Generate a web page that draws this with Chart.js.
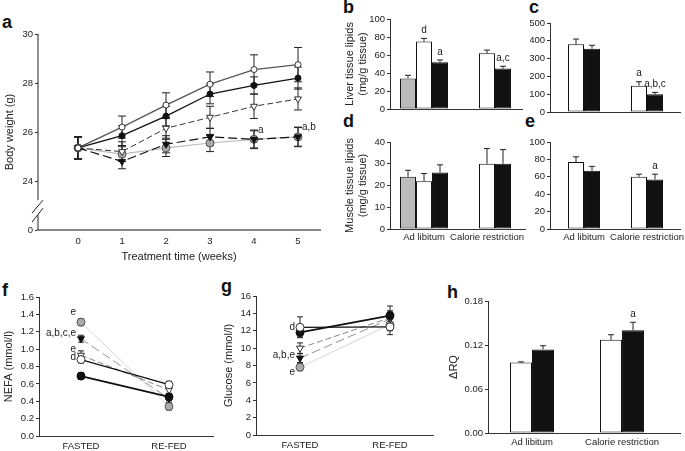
<!DOCTYPE html>
<html>
<head>
<meta charset="utf-8">
<script src="https://cdn.jsdelivr.net/npm/chart.js@4.4.1/dist/chart.umd.min.js"></script>
<style>
body { margin: 0; width: 685px; height: 451px; overflow: hidden; position: relative; background: #fff; font-family: "Liberation Sans", Arial, sans-serif; }
canvas { position: absolute; }
.tag { position: absolute; font-weight: bold; font-size: 18px; line-height: 1; color: #111; }
</style>
</head>
<body>
<div class="tag" style="left:2px;top:13px">a</div>
<div class="tag" style="left:343px;top:-2px">b</div>
<div class="tag" style="left:529px;top:-2px">c</div>
<div class="tag" style="left:343px;top:112px">d</div>
<div class="tag" style="left:525px;top:112px">e</div>
<div class="tag" style="left:2px;top:281px">f</div>
<div class="tag" style="left:221px;top:277px">g</div>
<div class="tag" style="left:447px;top:283px">h</div>
<canvas id="ca"></canvas>
<canvas id="cb"></canvas>
<canvas id="cc"></canvas>
<canvas id="cd"></canvas>
<canvas id="ce"></canvas>
<canvas id="cf"></canvas>
<canvas id="cg"></canvas>
<canvas id="ch"></canvas>
<script>
// ---- data ----
// a: body weight (g) per week
const weeks = [0, 1, 2, 3, 4, 5];
const bwOpenCircle     = [25.35, 26.2, 27.1, 27.95, 28.55, 28.75];
const bwOpenCircleSd   = [0.45, 0.45, 0.5, 0.5, 0.6, 0.7];
const bwFilledCircle   = [25.35, 25.85, 26.65, 27.55, 27.9, 28.2];
const bwFilledCircleSd = [0.45, 0.4, 0.4, 0.4, 0.35, 0.45];
const bwOpenTri        = [25.35, 25.2, 26.15, 26.6, 27.05, 27.35];
const bwOpenTriSd      = [0.45, 0.4, 0.4, 0.45, 0.5, 0.45];
const bwFilledTri      = [25.35, 24.8, 25.5, 25.8, 25.7, 25.8];
const bwFilledTriSd    = [0.45, 0.3, 0.35, 0.35, 0.35, 0.4];
const bwGray           = [25.35, 25.1, 25.35, 25.55, 25.7, 25.8];
const bwGraySd         = [0.45, 0.3, 0.35, 0.35, 0.38, 0.38];
const bwGrayNotes      = [null, null, null, null, 'a', 'a,b'];
const bwTicks = [22, 24, 26, 28, 30];

// bar panels: groups
const groups = ['Ad libitum', 'Calorie restriction'];
// b: liver tissue lipids
const liverGray = [34, null],  liverGraySd = [3.5, null];
const liverWhite = [75, 62],   liverWhiteSd = [3.5, 3.5], liverWhiteNotes = ['d', null];
const liverBlack = [52, 45],   liverBlackSd = [2.5, 2.5], liverBlackNotes = ['a', 'a,c'];
// c
const cWhite = [380, 148], cWhiteSd = [30, 22], cWhiteNotes = [null, 'a'];
const cBlack = [355, 100], cBlackSd = [20, 10], cBlackNotes = [null, 'a,b,c'];
// d: muscle tissue lipids
const muscleGray = [24, null],  muscleGraySd = [3, null];
const muscleWhite = [22, 30],   muscleWhiteSd = [3.5, 7];
const muscleBlack = [26, 30],   muscleBlackSd = [3.5, 6.5];
// e
const eWhite = [77, 60], eWhiteSd = [6, 3];
const eBlack = [67, 57], eBlackSd = [5, 6], eBlackNotes = [null, 'a'];

// f: NEFA, g: glucose (fasted, re-fed)
const states = ['FASTED', 'RE-FED'];
const nefaOpenCircle = [0.88, 0.59],   nefaOpenCircleSd = [0.04, 0.04],   nefaOpenCircleNotes = ['d', null];
const nefaFilledCircle = [0.69, 0.45], nefaFilledCircleSd = [0.04, 0.04];
const nefaOpenTri = [0.93, 0.53],      nefaOpenTriSd = [0.05, 0.04],      nefaOpenTriNotes = ['e', null];
const nefaFilledTri = [1.12, 0.43],    nefaFilledTriSd = [0.04, 0.04],    nefaFilledTriNotes = ['a,b,c,e', null];
const nefaGray = [1.31, 0.34],         nefaGraySd = [0.04, 0.04],         nefaGrayNotes = ['e', null];

const gluOpenCircle = [12.4, 12.45],   gluOpenCircleSd = [1.2, 0.9],    gluOpenCircleNotes = ['d', null];
const gluFilledCircle = [11.8, 13.75], gluFilledCircleSd = [0.5, 1.1];
const gluOpenTri = [10.0, 13.5],       gluOpenTriSd = [0.6, 0.8];
const gluFilledTri = [8.85, 13.35],    gluFilledTriSd = [0.5, 0.8],     gluFilledTriNotes = ['a,b,e', null];
const gluGray = [7.8, 12.7],           gluGraySd = [0.4, 0.7],          gluGrayNotes = ['e', null];

// h: delta RQ
const rqWhite = [0.096, 0.127], rqWhiteSd = [0.001, 0.007];
const rqBlack = [0.114, 0.140], rqBlackSd = [0.005, 0.011], rqBlackNotes = [null, 'a'];

// ---- plugins ----
function drawErrors(chart, opts) {
  const ctx = chart.ctx, ys = chart.scales.y;
  ctx.save();
  ctx.strokeStyle = '#222';
  ctx.lineWidth = 1;
  chart.data.datasets.forEach((ds, i) => {
    if (!ds.errors) return;
    chart.getDatasetMeta(i).data.forEach((el, j) => {
      const v = ds.vals[j], e = ds.errors[j];
      if (v == null || e == null) return;
      const hi = ys.getPixelForValue(v + e);
      const lo = ys.getPixelForValue(opts.both ? v - e : v);
      const w = opts.cap / 2;
      ctx.beginPath();
      ctx.moveTo(el.x, lo); ctx.lineTo(el.x, hi);
      ctx.moveTo(el.x - w, hi); ctx.lineTo(el.x + w, hi);
      if (opts.both) { ctx.moveTo(el.x - w, lo); ctx.lineTo(el.x + w, lo); }
      ctx.stroke();
    });
  });
  ctx.restore();
}
const errorBars = {
  id: 'errorBars',
  beforeDatasetsDraw(chart, args, opts) { if (opts.under) drawErrors(chart, opts); },
  afterDatasetsDraw(chart, args, opts) { if (!opts.under) drawErrors(chart, opts); }
};
const notes = {
  id: 'notes',
  afterDatasetsDraw(chart, args, opts) {
    const ctx = chart.ctx, ys = chart.scales.y;
    ctx.save();
    ctx.font = '10px "Liberation Sans", Arial, sans-serif';
    ctx.fillStyle = '#222';
    chart.data.datasets.forEach((ds, i) => {
      if (!ds.notes) return;
      const meta = chart.getDatasetMeta(i);
      ds.notes.forEach((txt, j) => {
        if (!txt) return;
        const el = meta.data[j];
        const v = ds.vals[j], e = (ds.errors && ds.errors[j]) || 0;
        if (opts.place === 'above') {
          ctx.textAlign = 'center'; ctx.textBaseline = 'bottom';
          ctx.fillText(txt, el.x, ys.getPixelForValue(v + e) - 3);
        } else if (opts.place === 'right') {
          ctx.textAlign = 'left'; ctx.textBaseline = 'middle';
          ctx.fillText(txt, el.x + 4, ys.getPixelForValue(v + e));
        } else {
          const dy = opts.dy ? opts.dy[i] : -3;
          ctx.textAlign = 'right'; ctx.textBaseline = 'middle';
          ctx.fillText(txt, el.x - 5, el.y + dy);
        }
      });
    });
    ctx.restore();
  }
};
const brokenAxis = {
  id: 'brokenAxis',
  afterDraw(chart, args, opts) {
    if (!opts.gap) return;
    const ctx = chart.ctx, ys = chart.scales.y, a = chart.chartArea, x = a.left;
    const g1 = ys.getPixelForValue(opts.gap[1]), g0 = ys.getPixelForValue(opts.gap[0]);
    ctx.save();
    ctx.strokeStyle = '#222'; ctx.lineWidth = 1;
    ctx.beginPath();
    ctx.moveTo(x, a.top); ctx.lineTo(x, g1);
    ctx.moveTo(x, g0); ctx.lineTo(x, a.bottom);
    ctx.moveTo(x - 6, g1 + 13); ctx.lineTo(x + 5, g1);
    ctx.moveTo(x - 6, g1 + 22); ctx.lineTo(x + 5, g1 + 8);
    ctx.stroke();
    ctx.restore();
  }
};
Chart.register(errorBars, notes, brokenAxis);
Chart.defaults.font.family = '"Liberation Sans", Arial, sans-serif';
Chart.defaults.color = '#222';
Chart.defaults.animation = false;

// ---- helpers ----
function pts(xs, ys) { return ys.map((v, i) => ({ x: xs[i], y: v })); }

function panel(id, box, plot) {
  const c = document.getElementById(id);
  c.width = box.w; c.height = box.h;
  c.style.left = box.x + 'px'; c.style.top = box.y + 'px';
  return {
    canvas: c,
    padding: { left: 0, top: plot.top - box.y, right: box.x + box.w - plot.right, bottom: 0 },
    yWidth: plot.left - box.x,
    xHeight: box.y + box.h - plot.bottom
  };
}

function baseOptions(p, o) {
  return {
    responsive: false,
    layout: { padding: p.padding },
    plugins: {
      legend: { display: false }, tooltip: { enabled: false },
      errorBars: o.errorBars, notes: o.notes || {}, brokenAxis: o.brokenAxis || {}
    },
    scales: {
      x: {
        type: 'linear', min: o.xMin, max: o.xMax, offset: false,
        afterFit: s => { s.height = p.xHeight; },
        afterBuildTicks: s => { s.ticks = o.xTicks.map(v => ({ value: v })); },
        grid: { display: false, drawTicks: false, offset: false },
        border: o.xBorder || { color: '#333', width: 1 },
        ticks: { display: o.xLabels !== false, autoSkip: false, maxRotation: 0, padding: o.xPad || 4,
                 font: { size: 9.5 }, callback: o.xFmt },
        title: o.xTitle ? { display: true, text: o.xTitle, font: { size: 11 }, padding: { top: 0, bottom: o.xTitlePad || 4 } } : { display: false }
      },
      y: {
        min: o.yMin, max: o.yMax,
        afterFit: s => { s.width = p.yWidth; },
        afterBuildTicks: s => { s.ticks = o.yTicks.map(v => ({ value: v })); },
        grid: { display: true, drawOnChartArea: false, drawTicks: true, tickLength: 3, color: '#333' },
        border: o.yBorder || { color: '#333', width: 1 },
        ticks: { padding: 2, font: { size: 9.5 }, callback: o.yFmt },
        title: o.yTitle ? { display: true, text: o.yTitle, font: { size: 11 }, padding: { top: o.yTitlePad || 3, bottom: 0 } } : { display: false }
      }
    }
  };
}

function lineSet(xs, vals, sd, style, notesArr) {
  return Object.assign({
    data: pts(xs, vals), vals: vals, errors: sd, notes: notesArr,
    tension: 0, fill: false, pointBorderWidth: 1
  }, style);
}
function barSet(vals, sd, fill, notesArr) {
  return {
    data: pts([0, 1], vals), vals: vals, errors: sd, notes: notesArr,
    backgroundColor: fill, borderColor: '#111', borderWidth: 1, borderSkipped: false
  };
}

// line styles (same groups in a, f, g)
const stOpenCircle = { borderColor: '#555', borderWidth: 1.3, pointStyle: 'circle', pointRadius: 3,
                       pointBackgroundColor: '#fff', pointBorderColor: '#333' };
const stFilledCircle = { borderColor: '#111', borderWidth: 1.3, pointStyle: 'circle', pointRadius: 3,
                         pointBackgroundColor: '#111', pointBorderColor: '#111' };
const stOpenTri = { borderColor: '#333', borderWidth: 1, borderDash: [6, 3], pointStyle: 'triangle', pointRotation: 180,
                    pointRadius: 4, pointBackgroundColor: '#fff', pointBorderColor: '#333' };
const stFilledTri = { borderColor: '#111', borderWidth: 1.2, borderDash: [9, 4], pointStyle: 'triangle', pointRotation: 180,
                      pointRadius: 4, pointBackgroundColor: '#111', pointBorderColor: '#111' };
const stGray = { borderColor: '#bbb', borderWidth: 1.2, pointStyle: 'circle', pointRadius: 4,
                 pointBackgroundColor: '#aaa', pointBorderColor: '#555' };

// ---- a ----
const pa = panel('ca', { x: 0, y: 20, w: 330, h: 250 }, { left: 38, top: 34, right: 320, bottom: 230 });
new Chart(pa.canvas, {
  type: 'line',
  data: { datasets: [
    lineSet(weeks, bwOpenCircle, bwOpenCircleSd, stOpenCircle),
    lineSet(weeks, bwFilledCircle, bwFilledCircleSd, stFilledCircle),
    lineSet(weeks, bwOpenTri, bwOpenTriSd, stOpenTri),
    lineSet(weeks, bwFilledTri, bwFilledTriSd, stFilledTri),
    lineSet(weeks, bwGray, bwGraySd, stGray, bwGrayNotes)
  ] },
  options: baseOptions(pa, {
    xMin: -0.91, xMax: 5.5, xTicks: weeks, xPad: 6, xTitle: 'Treatment time (weeks)', xTitlePad: 6,
    xBorder: { color: '#888', width: 2 },
    yMin: 22, yMax: 30, yTicks: bwTicks, yFmt: v => (v === 22 ? '0' : v), yTitle: 'Body weight (g)',
    yBorder: { display: false },
    errorBars: { under: true, both: true, cap: 8 }, notes: { place: 'right' },
    brokenAxis: { gap: [22.61, 23.22] }
  })
});

const barOpts = (cp) => ({ datasets: { bar: { categoryPercentage: cp, barPercentage: 1 } } });

// ---- b ----
const pb = panel('cb', { x: 340, y: 0, w: 190, h: 125 }, { left: 390, top: 19, right: 522, bottom: 109 });
new Chart(pb.canvas, {
  type: 'bar',
  data: { datasets: [
    barSet(liverGray, liverGraySd, '#bbb'),
    barSet(liverWhite, liverWhiteSd, '#fff', liverWhiteNotes),
    barSet(liverBlack, liverBlackSd, '#111', liverBlackNotes)
  ] },
  options: Object.assign(baseOptions(pb, {
    xMin: -0.54, xMax: 1.556, xTicks: [0, 1], xLabels: false,
    yMin: 0, yMax: 100, yTicks: [0, 20, 40, 60, 80, 100], yTitle: ['Liver tissue lipids', '(mg/g tissue)'],
    errorBars: { both: false, cap: 6 }, notes: { place: 'above' }
  }), barOpts(0.762))
});

// ---- c ----
const pc = panel('cc', { x: 530, y: 0, w: 170, h: 125 }, { left: 550, top: 23, right: 680, bottom: 112 });
new Chart(pc.canvas, {
  type: 'bar',
  data: { datasets: [
    barSet(cWhite, cWhiteSd, '#fff', cWhiteNotes),
    barSet(cBlack, cBlackSd, '#111', cBlackNotes)
  ] },
  options: Object.assign(baseOptions(pc, {
    xMin: -0.54, xMax: 1.524, xTicks: [0, 1], xLabels: false,
    yMin: 0, yMax: 500, yTicks: [0, 100, 200, 300, 400, 500],
    errorBars: { both: false, cap: 6 }, notes: { place: 'above' }
  }), barOpts(0.508))
});

// ---- d ----
const pd = panel('cd', { x: 340, y: 125, w: 190, h: 125 }, { left: 390, top: 142, right: 525, bottom: 229 });
new Chart(pd.canvas, {
  type: 'bar',
  data: { datasets: [
    barSet(muscleGray, muscleGraySd, '#bbb'),
    barSet(muscleWhite, muscleWhiteSd, '#fff'),
    barSet(muscleBlack, muscleBlackSd, '#111')
  ] },
  options: Object.assign(baseOptions(pd, {
    xMin: -0.54, xMax: 1.603, xTicks: [0, 1], xFmt: v => groups[v], xPad: 3,
    yMin: 0, yMax: 40, yTicks: [0, 10, 20, 30, 40], yTitle: ['Muscle tissue lipids', '(mg/g tissue)'],
    errorBars: { both: false, cap: 6 }, notes: { place: 'above' }
  }), barOpts(0.762))
});

// ---- e ----
const pe = panel('ce', { x: 530, y: 125, w: 170, h: 125 }, { left: 550, top: 142, right: 680, bottom: 229 });
new Chart(pe.canvas, {
  type: 'bar',
  data: { datasets: [
    barSet(eWhite, eWhiteSd, '#fff'),
    barSet(eBlack, eBlackSd, '#111', eBlackNotes)
  ] },
  options: Object.assign(baseOptions(pe, {
    xMin: -0.54, xMax: 1.524, xTicks: [0, 1], xFmt: v => groups[v], xPad: 3,
    yMin: 0, yMax: 100, yTicks: [0, 20, 40, 60, 80, 100],
    errorBars: { both: false, cap: 6 }, notes: { place: 'above' }
  }), barOpts(0.508))
});

// ---- f ----
const pf = panel('cf', { x: 0, y: 280, w: 220, h: 171 }, { left: 39, top: 297, right: 213, bottom: 436 });
new Chart(pf.canvas, {
  type: 'line',
  data: { datasets: [
    lineSet([0, 1], nefaOpenCircle, nefaOpenCircleSd, Object.assign({}, stOpenCircle, { borderColor: '#111', pointRadius: 4 }), nefaOpenCircleNotes),
    lineSet([0, 1], nefaFilledCircle, nefaFilledCircleSd, Object.assign({}, stFilledCircle, { borderWidth: 1.8, pointRadius: 4 })),
    lineSet([0, 1], nefaOpenTri, nefaOpenTriSd, Object.assign({}, stOpenTri, { borderColor: '#666', borderWidth: 0.8 }), nefaOpenTriNotes),
    lineSet([0, 1], nefaFilledTri, nefaFilledTriSd, Object.assign({}, stFilledTri, { borderColor: '#777', borderWidth: 0.8 }), nefaFilledTriNotes),
    lineSet([0, 1], nefaGray, nefaGraySd, Object.assign({}, stGray, { borderColor: '#ccc', borderWidth: 0.8 }), nefaGrayNotes)
  ] },
  options: baseOptions(pf, {
    xMin: -0.477, xMax: 1.5, xTicks: [0, 1], xFmt: v => states[v], xPad: 5,
    yMin: 0, yMax: 1.6, yTicks: [0, 0.2, 0.4, 0.6, 0.8, 1.0, 1.2, 1.4, 1.6], yFmt: v => v.toFixed(1),
    yTitle: 'NEFA (mmol/l)', yTitlePad: 2,
    errorBars: { under: true, both: true, cap: 6 }, notes: { place: 'left', dy: [-2, 0, -6, -5, -10] }
  })
});

// ---- g ----
const pg = panel('cg', { x: 220, y: 280, w: 220, h: 171 }, { left: 256, top: 296, right: 433, bottom: 435 });
new Chart(pg.canvas, {
  type: 'line',
  data: { datasets: [
    lineSet([0, 1], gluOpenCircle, gluOpenCircleSd, Object.assign({}, stOpenCircle, { borderColor: '#111', pointRadius: 4 }), gluOpenCircleNotes),
    lineSet([0, 1], gluFilledCircle, gluFilledCircleSd, Object.assign({}, stFilledCircle, { borderWidth: 1.8, pointRadius: 4 })),
    lineSet([0, 1], gluOpenTri, gluOpenTriSd, Object.assign({}, stOpenTri, { borderColor: '#666', borderWidth: 0.8 })),
    lineSet([0, 1], gluFilledTri, gluFilledTriSd, Object.assign({}, stFilledTri, { borderColor: '#777', borderWidth: 0.8 }), gluFilledTriNotes),
    lineSet([0, 1], gluGray, gluGraySd, Object.assign({}, stGray, { borderColor: '#ccc', borderWidth: 0.8 }), gluGrayNotes)
  ] },
  options: baseOptions(pg, {
    xMin: -0.489, xMax: 1.478, xTicks: [0, 1], xFmt: v => states[v], xPad: 5,
    yMin: 0, yMax: 16, yTicks: [0, 2, 4, 6, 8, 10, 12, 14, 16],
    yTitle: 'Glucose (mmol/l)', yTitlePad: 2,
    errorBars: { under: true, both: true, cap: 6 }, notes: { place: 'left', dy: [0, 0, 0, -3, 5] }
  })
});

// ---- h ----
const ph = panel('ch', { x: 440, y: 280, w: 245, h: 171 }, { left: 488, top: 301, right: 680, bottom: 433 });
new Chart(ph.canvas, {
  type: 'bar',
  data: { datasets: [
    barSet(rqWhite, rqWhiteSd, '#fff'),
    barSet(rqBlack, rqBlackSd, '#111', rqBlackNotes)
  ] },
  options: Object.assign(baseOptions(ph, {
    xMin: -0.489, xMax: 1.644, xTicks: [0, 1], xFmt: v => groups[v], xPad: 4,
    yMin: 0, yMax: 0.18, yTicks: [0, 0.06, 0.12, 0.18], yFmt: v => v.toFixed(2),
    yTitle: 'ΔRQ', yTitlePad: 7,
    errorBars: { both: false, cap: 6 }, notes: { place: 'above' }
  }), barOpts(0.489))
});
</script>
</body>
</html>
